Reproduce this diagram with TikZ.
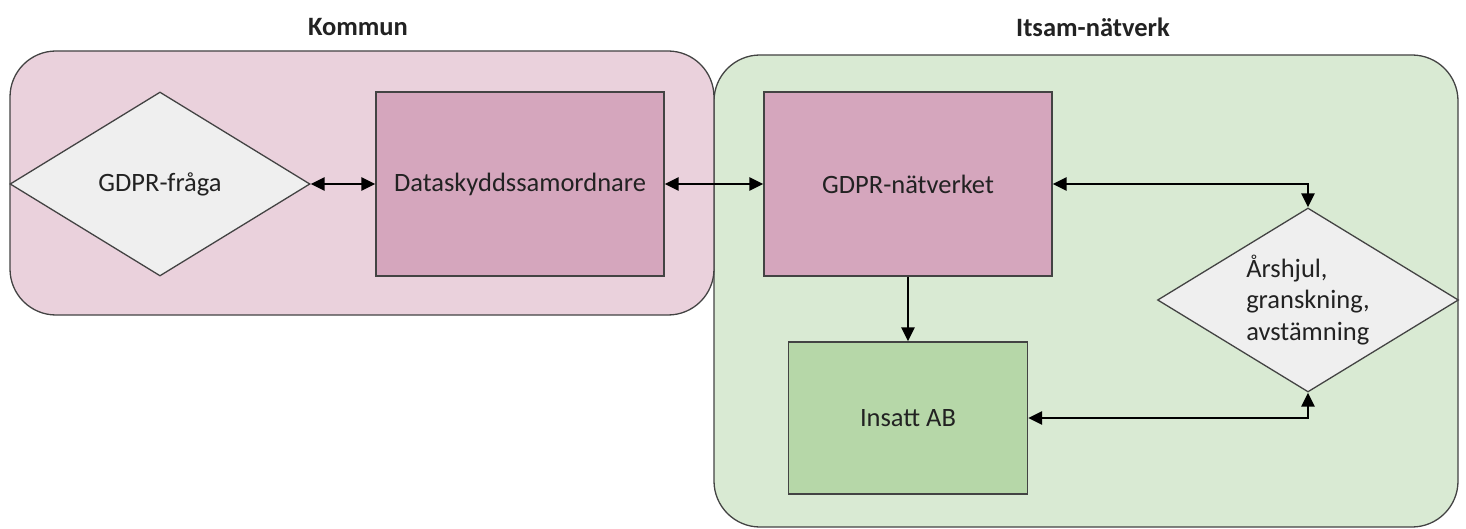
\documentclass[tikz,border=0pt]{standalone}
\usepackage{fontspec}
\setmainfont{Carlito}
\usetikzlibrary{shapes.geometric,arrows.meta}
\definecolor{pinkbg}{HTML}{EAD1DC}
\definecolor{pinkbox}{HTML}{D5A6BD}
\definecolor{greenbg}{HTML}{D9EAD3}
\definecolor{greenbox}{HTML}{B6D7A8}
\definecolor{diafill}{HTML}{EFEFEF}
\definecolor{edge}{HTML}{434343}
\definecolor{txt}{HTML}{222222}
\begin{document}
\begin{tikzpicture}[x=1pt,y=-1pt,
  every node/.style={text=txt, font=\fontsize{26.5}{31.5}\selectfont},
  group/.style={draw=edge, line width=1.3pt, rounded corners=46pt, inner sep=0pt},
  title/.style={font=\fontsize{26.5}{30}\selectfont\bfseries},
  boxnode/.style={draw=edge, line width=1.3pt, inner sep=0pt},
  dia/.style={draw=edge, line width=1.3pt, diamond, fill=diafill, inner sep=0pt, aspect=1.63},
  conn/.style={line width=2.4pt, draw=black, {Triangle[length=14pt,width=13pt]}-{Triangle[length=14pt,width=13pt]}},
  oneway/.style={line width=2.4pt, draw=black, -{Triangle[length=14pt,width=13pt]}}
]
\useasboundingbox (0,0) rectangle (1466,529);
% group containers
\node[group, fill=greenbg, minimum width=744pt, minimum height=472pt] (itsam) at (1086,291) {};
\node[group, fill=pinkbg, minimum width=704pt, minimum height=264pt] (kommun) at (362,183) {};
\node[title] (tkommun) at (358,27) {Kommun};
\node[title] (titsam) at (1093,27) {Itsam-nätverk};
% nodes
\node[dia, minimum width=300pt, minimum height=184pt] (fraga) at (160,184) {GDPR-fråga};
\node[boxnode, fill=pinkbox, minimum width=288pt, minimum height=184pt] (dsa) at (520,184) {Dataskyddssamordnare};
\node[boxnode, fill=pinkbox, minimum width=288pt, minimum height=184pt] (natv) at (908,184) {GDPR-nätverket};
\node[boxnode, fill=greenbox, minimum width=239pt, minimum height=152pt] (insatt) at (908,418) {Insatt AB};
\node[dia, minimum width=301pt, minimum height=184pt, align=left] (ars) at (1308,300) {Årshjul,\\granskning,\\avstämning};
% connectors
\draw[conn] (fraga.east) -- (dsa.west);
\draw[conn] (dsa.east) -- (natv.west);
\draw[conn] (natv.east) -| (ars.north);
\draw[oneway] (natv.south) -- (insatt.north);
\draw[conn] (insatt.east) -| (ars.south);
\end{tikzpicture}
\end{document}
